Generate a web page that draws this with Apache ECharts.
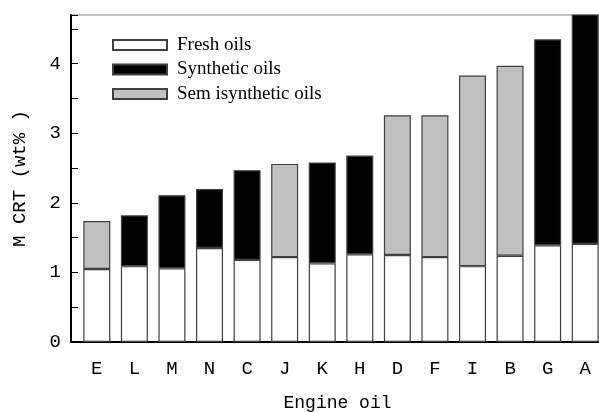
<!DOCTYPE html>
<html>
<head>
<meta charset="utf-8">
<script src="https://cdn.jsdelivr.net/npm/echarts@6/dist/echarts.min.js"></script>
<style>
html,body{margin:0;padding:0;background:#fff;}
#chart{width:599px;height:412px;}
</style>
</head>
<body>
<div id="chart"></div>
<script>
const categories = ['E','L','M','N','C','J','K','H','D','F','I','B','G','A'];
const fresh = [1.05,1.09,1.06,1.35,1.18,1.22,1.13,1.26,1.25,1.22,1.09,1.24,1.39,1.41];
const synthetic = [null,0.73,1.05,0.85,1.29,null,1.45,1.42,null,null,null,null,2.96,3.35];
const semisynthetic = [0.69,null,null,null,null,1.34,null,null,2.01,2.04,2.74,2.73,null,null];
const yTickLabels = [0,1,2,3,4];
const seriesNames = ['Fresh oils','Synthetic oils','Sem isynthetic oils'];

// value first, category index second (so stacking applies to the value dimension)
const toPairs = arr => arr.map((v,i) => [v == null ? '-' : v, i]);
const mono = 'Liberation Mono';
const serif = 'Liberation Serif';

const chart = echarts.init(document.getElementById('chart'), null, {renderer:'canvas'});
const barStyle = (color) => ({color: color, borderColor: '#404040', borderWidth: 1.2});
const barBase = {type: 'bar', stack: 'total', barWidth: 27, encode: {x: 1, y: 0}};
chart.setOption({
  animation: false,
  backgroundColor: '#fff',
  grid: {left: 71, top: 15, bottom: 70, right: -5, containLabel: false, outerBoundsMode: 'none',
         show: true, borderColor: '#8a8a8a', borderWidth: 1, backgroundColor: 'transparent'},
  legend: {
    orient: 'vertical', left: 107, top: 30, itemWidth: 54, itemHeight: 10, itemGap: 4.5,
    icon: 'rect',
    textStyle: {fontFamily: serif, fontSize: 19, color: '#000', lineHeight: 20, padding: [0,0,0,5]},
    data: seriesNames
  },
  xAxis: {
    type: 'value', min: -0.687, max: 13.5,
    name: 'Engine oil', nameLocation: 'middle', nameGap: 52,
    nameTextStyle: {fontFamily: mono, fontSize: 18, color: '#000'},
    axisLine: {show: true, onZero: false, lineStyle: {color: '#000', width: 2}},
    axisTick: {show: false},
    splitLine: {show: false},
    axisLabel: {
      customValues: categories.map((c,i) => i),
      formatter: v => categories[Math.round(v)] || '',
      fontFamily: mono, fontSize: 19, color: '#000', margin: 17
    }
  },
  yAxis: {
    type: 'value', min: 0, max: 4.7, interval: 0.5,
    name: 'M CRT (wt% )', nameLocation: 'middle', nameGap: 42, nameRotate: 90,
    nameTextStyle: {fontFamily: mono, fontSize: 19, color: '#000'},
    axisLine: {show: true, onZero: false, lineStyle: {color: '#000', width: 2}},
    axisTick: {show: true, inside: true, length: 7, lineStyle: {color: '#000', width: 1}},
    splitLine: {show: false},
    axisLabel: {
      formatter: v => (yTickLabels.indexOf(v) >= 0 ? String(v) : ''),
      fontFamily: mono, fontSize: 19, color: '#000', margin: 10
    }
  },
  series: [
    Object.assign({name: seriesNames[0], data: toPairs(fresh), itemStyle: barStyle('#ffffff')}, barBase),
    Object.assign({name: seriesNames[1], data: toPairs(synthetic), itemStyle: barStyle('#000000')}, barBase),
    Object.assign({name: seriesNames[2], data: toPairs(semisynthetic), itemStyle: barStyle('#c0c0c0')}, barBase)
  ]
});
</script>
</body>
</html>
